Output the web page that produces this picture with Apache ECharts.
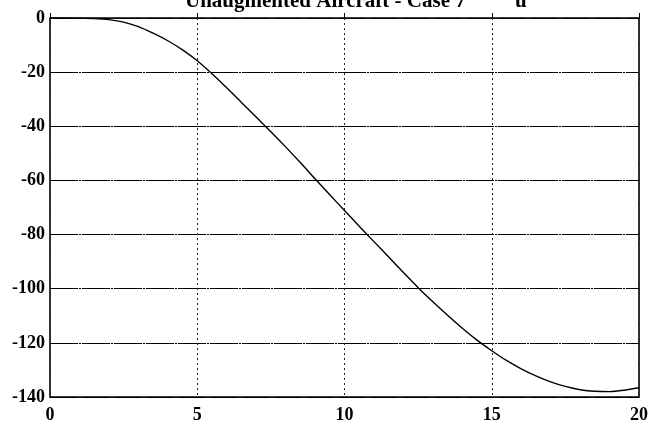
<!DOCTYPE html>
<html>
<head>
<meta charset="utf-8">
<script src="https://cdn.jsdelivr.net/npm/echarts@6/dist/echarts.min.js"></script>
<style>
  html, body { margin: 0; padding: 0; background: #fff; }
  #chart { width: 651px; height: 428px; }
</style>
</head>
<body>
<div id="chart"></div>
<script>
// Time samples (s) and response of the unaugmented aircraft, case 7
const timeValues = [0, 0.5, 1, 1.5, 2, 2.5, 3, 3.5, 4, 4.5, 5, 5.5, 6, 6.5, 7, 7.5, 8, 8.5, 9, 9.5,
  10, 10.5, 11, 11.5, 12, 12.5, 13, 13.5, 14, 14.5, 15, 15.5, 16, 16.5, 17, 17.5, 18, 18.5, 19, 19.5, 20];
const responseValues = [0, 0, -0.1, -0.2, -0.6, -1.5, -3.2, -5.6, -8.4, -11.8, -15.8, -20.6, -25.8, -31.2,
  -36.6, -42.0, -47.6, -53.4, -59.4, -65.3, -71.1, -76.9, -82.6, -88.3, -94.0, -99.6, -104.8, -109.8,
  -114.6, -119.0, -122.9, -126.5, -129.6, -132.2, -134.4, -136.1, -137.3, -137.9, -138.0, -137.5, -136.6];
const xTicks = [0, 5, 10, 15, 20];
const yTicks = [-140, -120, -100, -80, -60, -40, -20, 0];
const titleMain = 'Unaugmented Aircraft - Case 7';
const titleVar = 'u';

const serif = '"Liberation Serif", "DejaVu Serif", serif';
const chart = echarts.init(document.getElementById('chart'), null, { renderer: 'canvas' });

chart.setOption({
  animation: false,
  backgroundColor: '#fff',
  grid: { left: 50, right: 12, top: 18, bottom: 31, show: true, borderColor: '#000', borderWidth: 1.6, backgroundColor: 'transparent' },
  xAxis: {
    type: 'value',
    min: xTicks[0], max: xTicks[xTicks.length - 1], interval: 5,
    axisLine: { show: false },
    axisTick: { show: true, inside: true, length: 5, lineStyle: { color: '#000' } },
    axisLabel: { color: '#000', fontFamily: serif, fontWeight: 'bold', fontSize: 18, margin: 9 },
    splitLine: { show: true, lineStyle: { color: '#222', width: 1, type: [2, 3] } }
  },
  yAxis: {
    type: 'value',
    min: yTicks[0], max: yTicks[yTicks.length - 1], interval: 20,
    axisLine: { show: false },
    axisTick: { show: true, inside: true, length: 5, lineStyle: { color: '#000' } },
    axisLabel: { color: '#000', fontFamily: serif, fontWeight: 'bold', fontSize: 18, margin: 5 },
    splitLine: { show: true, lineStyle: { color: '#000', width: 1, type: [28, 1, 2, 1] } }
  },
  series: [{
    type: 'line',
    data: timeValues.map((t, i) => [t, responseValues[i]]),
    showSymbol: false,
    smooth: 0.3,
    lineStyle: { color: '#000', width: 1.4 },
    z: 5
  }],
  graphic: [
    { type: 'text', left: 185, top: -9, style: { text: titleMain, fill: '#000', font: 'bold 21px ' + serif } },
    { type: 'text', left: 515, top: -9, style: { text: titleVar, fill: '#000', font: 'bold 21px ' + serif } }
  ]
});
</script>
</body>
</html>
